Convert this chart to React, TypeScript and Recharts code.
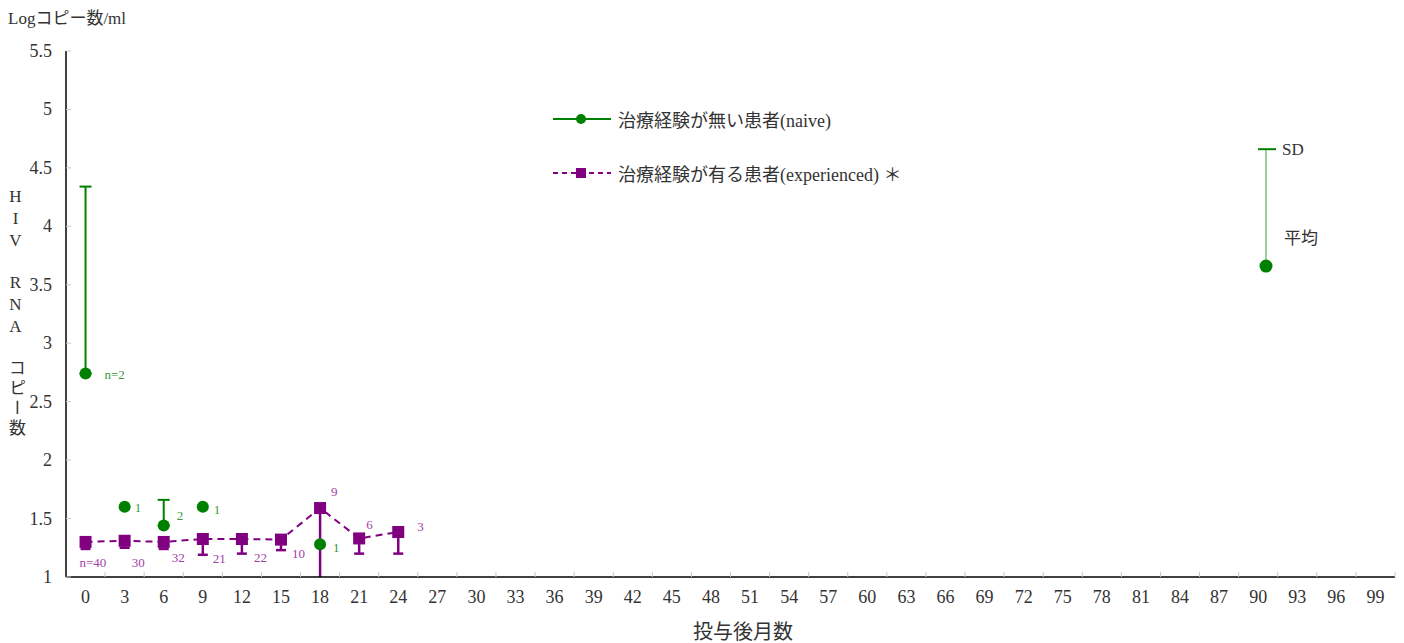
import { ComposedChart, Line, XAxis, YAxis, ErrorBar, LabelList } from 'recharts';

// months after dosing (category centres on the x axis)
const months = [0, 3, 6, 9, 12, 15, 18, 21, 24];

// treatment-naive patients: mean log copies/ml, +SD, n
const naiveMean = [2.74, 1.6, 1.44, 1.6, null, null, 1.28, null, null];
const naiveSD = [1.6, null, 0.22, null, null, null, null, null, null];
const naiveN = ['n=2', '1', '2', '1', null, null, '1', null, null];

// treatment-experienced patients: mean, -SD, n
const expMean = [1.3, 1.31, 1.3, 1.325, 1.325, 1.32, 1.59, 1.33, 1.385];
const expSD = [0.06, 0.06, 0.06, 0.135, 0.125, 0.09, 0.59, 0.13, 0.185];
const expN = ['n=40', '30', '32', '21', '22', '10', '9', '6', '3'];

// the "SD / 平均" key sample drawn inside the plot
const sampleMonth = [90.6];
const sampleMean = [3.66];
const sampleSD = [1.0];

const xTickLabels = [0, 3, 6, 9, 12, 15, 18, 21, 24, 27, 30, 33, 36, 39, 42, 45, 48, 51, 54, 57, 60, 63, 66, 69, 72, 75, 78, 81, 84, 87, 90, 93, 96, 99];
const yTickLabels = [1, 1.5, 2, 2.5, 3, 3.5, 4, 4.5, 5, 5.5];

const Y_MIN = 1;
const GREEN = '#008000';
const PURPLE = '#800080';
const GREEN_TXT = '#3a9a3a';
const PURPLE_TXT = '#a040a8';
const FONT = "'Liberation Serif', 'Noto Sans CJK JP', serif";

// label offsets relative to each point (dx, dy)
const naiveLabelOff = [[19, 1], [10, 1], [13, -10], [11, 3], [0, 0], [0, 0], [13, 3], [0, 0], [0, 0]];
const expLabelOff = [[-6, 21], [7, 22], [8, 16], [10, 19], [12, 18], [11, 14], [11, -17], [7, -14], [19, -6]];

const rows = months.map((m, i) => {
  // bars that run down to the axis have no visible cap
  const offAxis = expMean[i] - expSD[i] <= Y_MIN + 1e-9;
  return {
    month: m,
    naive: naiveMean[i],
    naiveErr: naiveSD[i] != null ? [0, naiveSD[i]] : null,
    naiveN: naiveN[i],
    exp: expMean[i],
    expErr: offAxis ? null : [expSD[i], 0],
    expErrLong: offAxis ? [expSD[i], 0] : null,
    expN: expN[i],
  };
});

const sampleRows = sampleMonth.map((m, i) => ({
  month: m,
  sample: sampleMean[i],
  sampleTop: sampleMean[i] + sampleSD[i],
  sampleErr: [0, sampleSD[i]],
}));

// band boundaries between the month categories, where the small ticks go
const boundaries = xTickLabels.map(t => t + 1.5);
const allXTicks = [...xTickLabels, ...boundaries].sort((a, b) => a - b);

const XTick = ({ x, y, payload }: any) => {
  const v = payload.value;
  if (xTickLabels.includes(v)) {
    return (
      <text x={x} y={y + 12} textAnchor="middle" fontSize={18} fill="#333" fontFamily={FONT}>{v}</text>
    );
  }
  return <line x1={x} x2={x} y1={y - 14} y2={y - 19} stroke="#c8c8c8" strokeWidth={1} />;
};

const YTick = ({ x, y, payload }: any) => (
  <g>
    <line x1={x + 14} x2={x + 19} y1={y} y2={y} stroke="#c8c8c8" strokeWidth={1} />
    <text x={x} y={y + 6} textAnchor="end" fontSize={18} fill="#333" fontFamily={FONT}>{payload.value}</text>
  </g>
);

const makeLabel = (offsets: number[][], color: string) => (p: any) => {
  const { x, y, value, index } = p;
  if (value == null || y == null || isNaN(y)) return null;
  const [dx, dy] = offsets[index] || [0, 0];
  return (
    <text x={x + dx} y={y + dy} dy="0.35em" fontSize={13} fill={color} fontFamily={FONT}>{value}</text>
  );
};

const Square = (p: any) => {
  const { cx, cy } = p;
  if (cy == null || isNaN(cy)) return null;
  return <rect x={cx - 6} y={cy - 6} width={12} height={12} fill={PURPLE} />;
};

const Cap = (p: any) => {
  const { cx, cy } = p;
  if (cy == null || isNaN(cy)) return null;
  return <line x1={cx - 8} x2={cx + 10} y1={cy} y2={cy} stroke={GREEN} strokeWidth={2} />;
};

const SampleLabels = (p: any) => {
  const { x, y } = p;
  if (y == null) return null;
  return (
    <g fontFamily={FONT} fontSize={17} fill="#333">
      <text x={x + 16} y={y - 117} dy="0.35em">SD</text>
      <text x={x + 18} y={y - 28} dy="0.35em">平均</text>
    </g>
  );
};

export default function App() {
  return (
    <div style={{ position: 'absolute', left: 0, top: 0, width: 1404, height: 643, fontFamily: FONT, color: '#333' }}>
      <ComposedChart width={1404} height={643} data={rows} margin={{ top: 51, right: 9, left: 0, bottom: 36 }}>
        <XAxis
          dataKey="month" type="number" domain={[-1.5, 100.5]} ticks={allXTicks} interval={0}
          tickLine={false} tickSize={0} tickMargin={14} height={30}
          axisLine={{ stroke: '#000', strokeWidth: 1.5 }} tick={<XTick />} allowDataOverflow
        />
        <YAxis
          type="number" domain={[Y_MIN, 5.5]} ticks={yTickLabels} interval={0} width={66}
          tickLine={false} tickSize={0} tickMargin={14}
          axisLine={{ stroke: '#000', strokeWidth: 1.5 }} tick={<YTick />} allowDataOverflow
        />
        <Line
          dataKey="exp" stroke={PURPLE} strokeWidth={2} strokeDasharray="7 5"
          dot={<Square />} activeDot={false} isAnimationActive={false}
        >
          <ErrorBar dataKey="expErr" direction="y" width={5} stroke={PURPLE} strokeWidth={2.5} />
          <ErrorBar dataKey="expErrLong" direction="y" width={0} stroke={PURPLE} strokeWidth={2.5} />
          <LabelList dataKey="expN" content={makeLabel(expLabelOff, PURPLE_TXT)} />
        </Line>
        <Line
          dataKey="naive" stroke="none" connectNulls={false}
          dot={{ r: 6, fill: GREEN, stroke: 'none' }} activeDot={false} isAnimationActive={false}
        >
          <ErrorBar dataKey="naiveErr" direction="y" width={6} stroke={GREEN} strokeWidth={2} />
          <LabelList dataKey="naiveN" content={makeLabel(naiveLabelOff, GREEN_TXT)} />
        </Line>
        <Line
          data={sampleRows} dataKey="sampleTop" stroke="none"
          dot={<Cap />} activeDot={false} isAnimationActive={false}
        />
        <Line
          data={sampleRows} dataKey="sample" stroke="none"
          dot={{ r: 6.5, fill: GREEN, stroke: 'none' }} activeDot={false} isAnimationActive={false}
        >
          <ErrorBar dataKey="sampleErr" direction="y" width={0} stroke="#3d9e3d" strokeWidth={1} />
          <LabelList dataKey="sample" content={SampleLabels} />
        </Line>
      </ComposedChart>

      {/* axis titles */}
      <div style={{ position: 'absolute', left: 8, top: 4, fontSize: 17, whiteSpace: 'nowrap' }}>Logコピー数/ml</div>
      <div style={{
        position: 'absolute', left: 7, top: 187, fontSize: 17, writingMode: 'vertical-rl',
        textOrientation: 'upright', letterSpacing: 3, whiteSpace: 'nowrap', lineHeight: 1,
      }}>HIV　RNA　コピー数</div>
      <div style={{ position: 'absolute', left: 0, width: 1486, top: 616, textAlign: 'center', fontSize: 20 }}>投与後月数</div>

      {/* legend */}
      <div style={{ position: 'absolute', left: 553, top: 106, fontSize: 18 }}>
        <div style={{ display: 'flex', alignItems: 'center', height: 26 }}>
          <svg width={58} height={14} style={{ marginRight: 7 }}>
            <line x1={0} x2={58} y1={7} y2={7} stroke={GREEN} strokeWidth={2} />
            <circle cx={28} cy={7} r={5} fill={GREEN} />
          </svg>
          <span>治療経験が無い患者(naive)</span>
        </div>
        <div style={{ display: 'flex', alignItems: 'center', height: 26, marginTop: 28 }}>
          <svg width={58} height={14} style={{ marginRight: 7 }}>
            <line x1={0} x2={58} y1={7} y2={7} stroke={PURPLE} strokeWidth={2} strokeDasharray="5 4" />
            <rect x={23} y={2} width={10} height={10} fill={PURPLE} />
          </svg>
          <span>治療経験が有る患者(experienced) ＊</span>
        </div>
      </div>
    </div>
  );
}
